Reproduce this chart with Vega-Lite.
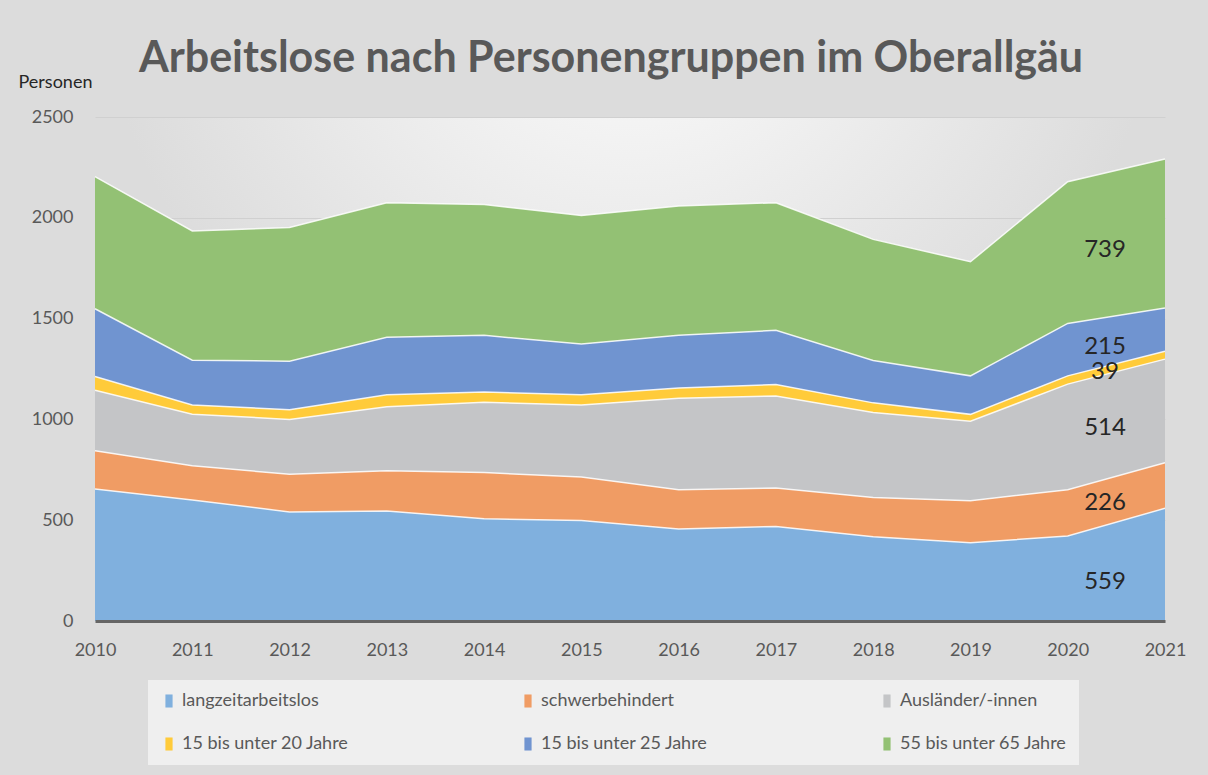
{
  "$schema": "https://vega.github.io/schema/vega-lite/v6.json",
  "width": 1070,
  "height": 504,
  "autosize": {"type": "none"},
  "padding": {"left": 95, "top": 117, "right": 43, "bottom": 154},
  "background": "#dcdcdc",
  "title": {
    "text": "Arbeitslose nach Personengruppen im Oberallgäu",
    "font": "Lato",
    "fontSize": 43,
    "fontWeight": "bold",
    "color": "#595959",
    "anchor": "middle",
    "offset": -8,
    "dx": -19
  },
  "datasets": {
    "d": [
      {"year": 2010, "group": "langzeitarbeitslos", "k": 1, "n": 655},
      {"year": 2010, "group": "schwerbehindert", "k": 2, "n": 189},
      {"year": 2010, "group": "Ausländer/-innen", "k": 3, "n": 301},
      {"year": 2010, "group": "15 bis unter 20 Jahre", "k": 4, "n": 68},
      {"year": 2010, "group": "15 bis unter 25 Jahre", "k": 5, "n": 336},
      {"year": 2010, "group": "55 bis unter 65 Jahre", "k": 6, "n": 655},
      {"year": 2011, "group": "langzeitarbeitslos", "k": 1, "n": 600},
      {"year": 2011, "group": "schwerbehindert", "k": 2, "n": 170},
      {"year": 2011, "group": "Ausländer/-innen", "k": 3, "n": 256},
      {"year": 2011, "group": "15 bis unter 20 Jahre", "k": 4, "n": 45},
      {"year": 2011, "group": "15 bis unter 25 Jahre", "k": 5, "n": 223},
      {"year": 2011, "group": "55 bis unter 65 Jahre", "k": 6, "n": 641},
      {"year": 2012, "group": "langzeitarbeitslos", "k": 1, "n": 541},
      {"year": 2012, "group": "schwerbehindert", "k": 2, "n": 187},
      {"year": 2012, "group": "Ausländer/-innen", "k": 3, "n": 272},
      {"year": 2012, "group": "15 bis unter 20 Jahre", "k": 4, "n": 48},
      {"year": 2012, "group": "15 bis unter 25 Jahre", "k": 5, "n": 241},
      {"year": 2012, "group": "55 bis unter 65 Jahre", "k": 6, "n": 663},
      {"year": 2013, "group": "langzeitarbeitslos", "k": 1, "n": 546},
      {"year": 2013, "group": "schwerbehindert", "k": 2, "n": 199},
      {"year": 2013, "group": "Ausländer/-innen", "k": 3, "n": 318},
      {"year": 2013, "group": "15 bis unter 20 Jahre", "k": 4, "n": 59},
      {"year": 2013, "group": "15 bis unter 25 Jahre", "k": 5, "n": 286},
      {"year": 2013, "group": "55 bis unter 65 Jahre", "k": 6, "n": 667},
      {"year": 2014, "group": "langzeitarbeitslos", "k": 1, "n": 507},
      {"year": 2014, "group": "schwerbehindert", "k": 2, "n": 229},
      {"year": 2014, "group": "Ausländer/-innen", "k": 3, "n": 349},
      {"year": 2014, "group": "15 bis unter 20 Jahre", "k": 4, "n": 51},
      {"year": 2014, "group": "15 bis unter 25 Jahre", "k": 5, "n": 281},
      {"year": 2014, "group": "55 bis unter 65 Jahre", "k": 6, "n": 649},
      {"year": 2015, "group": "langzeitarbeitslos", "k": 1, "n": 498},
      {"year": 2015, "group": "schwerbehindert", "k": 2, "n": 216},
      {"year": 2015, "group": "Ausländer/-innen", "k": 3, "n": 357},
      {"year": 2015, "group": "15 bis unter 20 Jahre", "k": 4, "n": 51},
      {"year": 2015, "group": "15 bis unter 25 Jahre", "k": 5, "n": 252},
      {"year": 2015, "group": "55 bis unter 65 Jahre", "k": 6, "n": 638},
      {"year": 2016, "group": "langzeitarbeitslos", "k": 1, "n": 456},
      {"year": 2016, "group": "schwerbehindert", "k": 2, "n": 195},
      {"year": 2016, "group": "Ausländer/-innen", "k": 3, "n": 454},
      {"year": 2016, "group": "15 bis unter 20 Jahre", "k": 4, "n": 51},
      {"year": 2016, "group": "15 bis unter 25 Jahre", "k": 5, "n": 261},
      {"year": 2016, "group": "55 bis unter 65 Jahre", "k": 6, "n": 641},
      {"year": 2017, "group": "langzeitarbeitslos", "k": 1, "n": 469},
      {"year": 2017, "group": "schwerbehindert", "k": 2, "n": 191},
      {"year": 2017, "group": "Ausländer/-innen", "k": 3, "n": 456},
      {"year": 2017, "group": "15 bis unter 20 Jahre", "k": 4, "n": 57},
      {"year": 2017, "group": "15 bis unter 25 Jahre", "k": 5, "n": 269},
      {"year": 2017, "group": "55 bis unter 65 Jahre", "k": 6, "n": 633},
      {"year": 2018, "group": "langzeitarbeitslos", "k": 1, "n": 418},
      {"year": 2018, "group": "schwerbehindert", "k": 2, "n": 194},
      {"year": 2018, "group": "Ausländer/-innen", "k": 3, "n": 422},
      {"year": 2018, "group": "15 bis unter 20 Jahre", "k": 4, "n": 48},
      {"year": 2018, "group": "15 bis unter 25 Jahre", "k": 5, "n": 210},
      {"year": 2018, "group": "55 bis unter 65 Jahre", "k": 6, "n": 601},
      {"year": 2019, "group": "langzeitarbeitslos", "k": 1, "n": 388},
      {"year": 2019, "group": "schwerbehindert", "k": 2, "n": 209},
      {"year": 2019, "group": "Ausländer/-innen", "k": 3, "n": 394},
      {"year": 2019, "group": "15 bis unter 20 Jahre", "k": 4, "n": 34},
      {"year": 2019, "group": "15 bis unter 25 Jahre", "k": 5, "n": 191},
      {"year": 2019, "group": "55 bis unter 65 Jahre", "k": 6, "n": 566},
      {"year": 2020, "group": "langzeitarbeitslos", "k": 1, "n": 422},
      {"year": 2020, "group": "schwerbehindert", "k": 2, "n": 229},
      {"year": 2020, "group": "Ausländer/-innen", "k": 3, "n": 524},
      {"year": 2020, "group": "15 bis unter 20 Jahre", "k": 4, "n": 41},
      {"year": 2020, "group": "15 bis unter 25 Jahre", "k": 5, "n": 260},
      {"year": 2020, "group": "55 bis unter 65 Jahre", "k": 6, "n": 703},
      {"year": 2021, "group": "langzeitarbeitslos", "k": 1, "n": 559},
      {"year": 2021, "group": "schwerbehindert", "k": 2, "n": 226},
      {"year": 2021, "group": "Ausländer/-innen", "k": 3, "n": 514},
      {"year": 2021, "group": "15 bis unter 20 Jahre", "k": 4, "n": 39},
      {"year": 2021, "group": "15 bis unter 25 Jahre", "k": 5, "n": 215},
      {"year": 2021, "group": "55 bis unter 65 Jahre", "k": 6, "n": 739}
    ]
  },
  "data": {"name": "d"},
  "transform": [
    {"stack": "n", "groupby": ["year"], "sort": [{"field": "k", "order": "ascending"}], "as": ["lo", "hi"]}
  ],
  "layer": [
    {
      "mark": {"type": "area", "opacity": 1},
      "encoding": {
        "x": {
          "field": "year", "type": "ordinal",
          "scale": {"type": "point", "padding": 0},
          "axis": {
            "title": null, "labelAngle": 0, "labelFontSize": 18, "labelColor": "#595959", "labelFont": "Lato",
            "labelPadding": 20, "ticks": false, "domainColor": "#666666", "domainWidth": 3, "grid": false, "zindex": 1
          }
        },
        "y": {
          "field": "hi", "type": "quantitative", "stack": null,
          "scale": {"domain": [0, 2500], "nice": false},
          "axis": {
            "title": "Personen", "titleAngle": 0, "titleX": -77, "titleY": -35, "titleAlign": "left",
            "titleBaseline": "middle", "titleFontSize": 18, "titleFontWeight": "normal", "titleColor": "#262626", "titleFont": "Lato",
            "values": [0, 500, 1000, 1500, 2000, 2500], "format": "d", "labelFontSize": 18, "labelColor": "#595959", "labelFont": "Lato",
            "labelPadding": 22, "ticks": false, "domain": false, "grid": true, "gridColor": "#d0d0d0", "zindex": 0
          }
        },
        "y2": {"field": "lo"},
        "color": {
          "field": "group", "type": "nominal",
          "scale": {
            "domain": ["langzeitarbeitslos", "schwerbehindert", "Ausländer/-innen", "15 bis unter 20 Jahre", "15 bis unter 25 Jahre", "55 bis unter 65 Jahre"],
            "range": ["#80b0de", "#f09c64", "#c4c5c7", "#ffcb3a", "#7094d0", "#93c174"]
          },
          "legend": {
            "title": null, "orient": "none", "legendX": 53, "legendY": 563, "direction": "horizontal",
            "columns": 3, "columnPadding": 170, "rowPadding": 25, "labelLimit": 400,
            "symbolType": "M-0.55,-1H0.55V1H-0.55Z", "symbolSize": 170, "symbolStrokeWidth": 0,
            "labelFontSize": 18, "labelColor": "#595959", "labelFont": "Lato", "labelOffset": 4,
            "fillColor": "#efefef", "padding": 12
          }
        }
      }
    },
    {
      "mark": {"type": "line", "color": "#ffffff", "strokeWidth": 1.5, "opacity": 0.85},
      "encoding": {
        "x": {"field": "year", "type": "ordinal"},
        "y": {"field": "hi", "type": "quantitative", "stack": null},
        "detail": {"field": "group"}
      }
    },
    {
      "transform": [
        {"filter": "datum.year == 2021"},
        {"fold": ["lo", "hi"], "as": ["edge", "v"]}
      ],
      "mark": {"type": "text", "font": "Lato", "fontSize": 24, "color": "#262626", "dx": -60, "dy": 17},
      "encoding": {
        "x": {"field": "year", "type": "ordinal"},
        "y": {"field": "v", "type": "quantitative", "aggregate": "mean"},
        "detail": {"field": "group"},
        "text": {"field": "n", "type": "quantitative"}
      }
    }
  ],
  "config": {
    "view": {
      "stroke": null,
      "fill": {
        "gradient": "radial",
        "x1": 0.5, "y1": 0.1, "x2": 0.5, "y2": 0.1, "r1": 0, "r2": 0.5,
        "stops": [{"offset": 0, "color": "#ffffff"}, {"offset": 1, "color": "#dcdcdc"}]
      }
    }
  }
}
